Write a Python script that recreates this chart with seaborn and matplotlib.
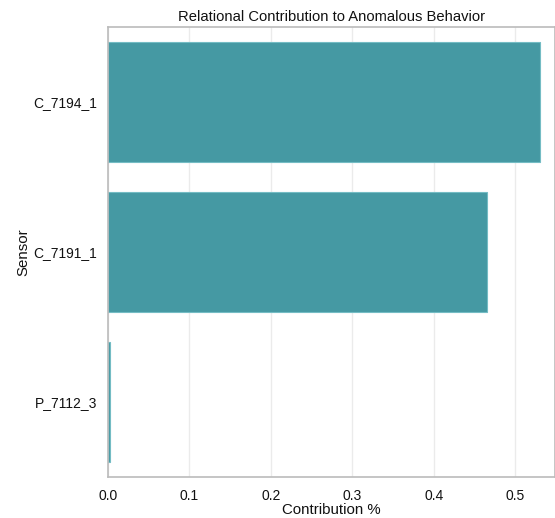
import matplotlib
matplotlib.use("Agg")
import matplotlib.pyplot as plt
import seaborn as sns
import pandas as pd

sensors = ["C_7194_1", "C_7191_1", "P_7112_3"]
contributions = [0.530, 0.466, 0.002]

sns.set_theme(style="whitegrid")
plt.rcParams['font.family'] = ['Liberation Sans', 'DejaVu Sans']

df = pd.DataFrame({"Sensor": sensors, "Contribution %": contributions})

fig = plt.figure(figsize=(5.55, 5.18), dpi=100)
ax = fig.add_axes([108/555, 1 - 477/518, 447/555, 450/518])
sns.barplot(data=df, x="Contribution %", y="Sensor", color="#4599a3", saturation=1,
            edgecolor="#74bcc4", linewidth=0.8, ax=ax, width=0.8)
ax.set_xlim(0, 0.549)
ax.set_title("Relational Contribution to Anomalous Behavior", fontsize=10.6, pad=4, color="#111111")
ax.set_xlabel("Contribution %", fontsize=10.8, labelpad=0, color="#111111")
ax.set_ylabel("Sensor", fontsize=10.8, labelpad=2, color="#111111")
ax.tick_params(axis="x", labelsize=10, colors="#111111", pad=2.5)
ax.tick_params(axis="y", labelsize=10, colors="#111111", pad=2)
ax.grid(axis="y", visible=False)
ax.grid(axis="x", color="#ebebeb", linewidth=1)
for s in ax.spines.values():
    s.set_color("#bbbbbb")
    s.set_linewidth(1.2)
fig.savefig("out.png", dpi=100)
